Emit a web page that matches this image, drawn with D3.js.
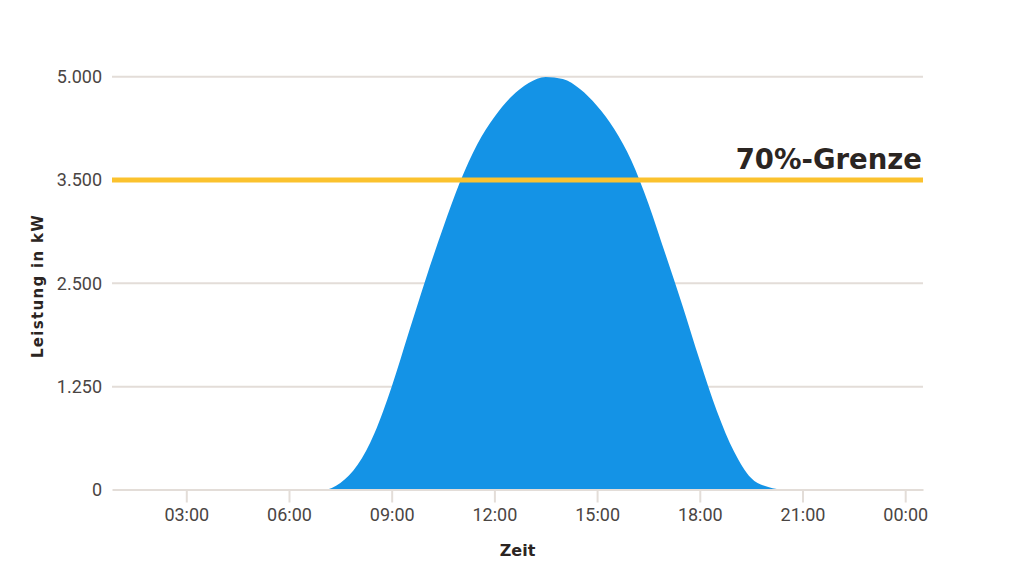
<!DOCTYPE html>
<html>
<head>
<meta charset="utf-8">
<script src="https://cdn.jsdelivr.net/npm/d3@7"></script>
<style>
  html, body { margin: 0; padding: 0; background: #ffffff; }
  svg { display: block; }
</style>
</head>
<body>
<svg id="chart" width="1024" height="577"></svg>
<script>
// ---- data ----
const times = ["06:30","07:00","07:30","08:00","08:30","09:00","09:30","10:00","10:30","11:00","11:30","12:00","12:30","13:00","13:30","14:00","14:30","15:00","15:30","16:00","16:30","17:00","17:30","18:00","18:30","19:00","19:30","20:00","20:30"];
const power = [0,0,85,301,691,1250,1908,2560,3170,3732,4184,4512,4760,4925,4997,4972,4850,4645,4367,3986,3463,2848,2224,1566,954,467,145,35,0];
// gridlines are evenly spaced in the original; the fourth one carries the label "3.500"
const yTickValues = [0, 1250, 2500, 3750, 5000];
const yTickLabels = ["0", "1.250", "2.500", "3.500", "5.000"];
const xTickValues = [3, 6, 9, 12, 15, 18, 21, 24];
const xTickLabels = ["03:00","06:00","09:00","12:00","15:00","18:00","21:00","00:00"];
const limitTickIndex = 3; // the 70% line sits on the "3.500" gridline
const limitLabel = "70%-Grenze";
const xTitle = "Zeit";
const yTitle = "Leistung in kW";
const xDomain = [0.83, 24.52];
const yDomain = [0, 5000];

// ---- helpers ----
const toHours = s => { const [h, m] = s.split(":").map(Number); return h + m / 60; };
const data = times.map((t, i) => ({ t: toHours(t), v: power[i] }));

const svg = d3.select("#chart");
const plotLeft = 112, plotRight = 923, plotTop = 76.7, plotBottom = 490;

const x = d3.scaleLinear().domain(xDomain).range([plotLeft, plotRight]);
const y = d3.scaleLinear().domain(yDomain).range([plotBottom, plotTop]);

const gridColor = "#e3ddd8";
const textColor = "#4a4543";
const titleColor = "#2b2522";
const titleFont = "'DejaVu Sans', sans-serif";
const limitY = y(yTickValues[limitTickIndex]);

// gridlines
svg.append("g")
  .selectAll("line")
  .data(yTickValues.filter((v, i) => v !== 0 && i !== limitTickIndex))
  .join("line")
  .attr("x1", plotLeft).attr("x2", plotRight)
  .attr("y1", d => y(d)).attr("y2", d => y(d))
  .attr("stroke", gridColor).attr("stroke-width", 2);

// area
const area = d3.area()
  .x(d => x(d.t))
  .y0(y(0))
  .y1(d => y(d.v))
  .curve(d3.curveMonotoneX);

svg.append("path")
  .datum(data)
  .attr("d", area)
  .attr("fill", "#1493e6");

// y axis labels
svg.append("g")
  .selectAll("text")
  .data(yTickValues)
  .join("text")
  .attr("x", 102)
  .attr("y", d => y(d))
  .attr("dy", "0.35em")
  .attr("text-anchor", "end")
  .attr("font-family", "Roboto, sans-serif")
  .attr("font-size", 18)
  .attr("fill", textColor)
  .text((d, i) => yTickLabels[i]);

// x axis
const xAxis = d3.axisBottom(x)
  .tickValues(xTickValues)
  .tickFormat((d, i) => xTickLabels[i])
  .tickSize(13)
  .tickPadding(6)
  .tickSizeOuter(0);

const gx = svg.append("g")
  .attr("transform", `translate(0,${plotBottom - 0.5})`)
  .call(xAxis);
gx.select(".domain").attr("stroke", gridColor).attr("stroke-width", 2);
gx.selectAll(".tick line").attr("stroke", gridColor).attr("stroke-width", 2);
gx.selectAll(".tick text")
  .attr("font-family", "Roboto, sans-serif")
  .attr("font-size", 18)
  .attr("fill", textColor);

// limit line
svg.append("line")
  .attr("x1", plotLeft).attr("x2", plotRight)
  .attr("y1", limitY).attr("y2", limitY)
  .attr("stroke", "#fbc22e").attr("stroke-width", 5);

svg.append("text")
  .attr("x", 922)
  .attr("y", 169)
  .attr("text-anchor", "end")
  .attr("font-family", titleFont)
  .attr("font-weight", 700)
  .attr("font-size", 27.5)
  .attr("fill", titleColor)
  .text(limitLabel);

// axis titles
svg.append("text")
  .attr("x", 517.5)
  .attr("y", 556)
  .attr("text-anchor", "middle")
  .attr("font-family", titleFont)
  .attr("font-weight", 700)
  .attr("font-size", 16)
  .attr("fill", titleColor)
  .text(xTitle);

svg.append("text")
  .attr("transform", "translate(43,286) rotate(-90)")
  .attr("text-anchor", "middle")
  .attr("font-family", titleFont)
  .attr("font-weight", 700)
  .attr("font-size", 15)
  .attr("letter-spacing", 1.3)
  .attr("fill", titleColor)
  .text(yTitle);
</script>
</body>
</html>
